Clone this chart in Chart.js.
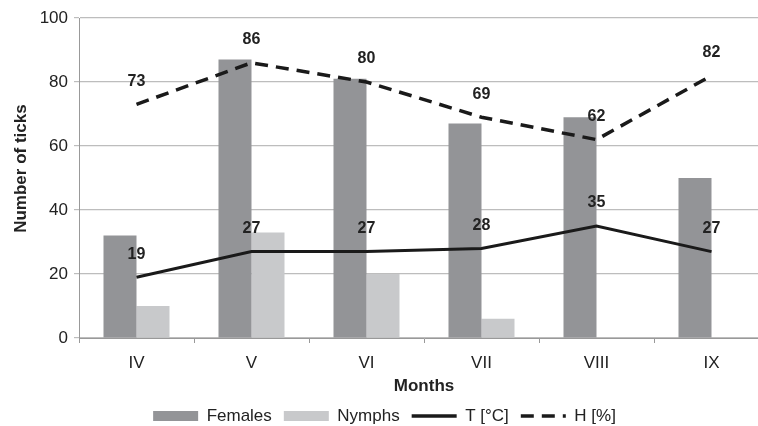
<!DOCTYPE html>
<html>
<head>
<meta charset="utf-8">
<script src="https://cdn.jsdelivr.net/npm/chart.js@4"></script>
<style>
  html, body { margin: 0; padding: 0; background: #fff; overflow: hidden; }
  canvas { display: block; }
</style>
</head>
<body>
<canvas id="ticksChart" width="790" height="426"></canvas>
<script>
// months on the x axis
const months = ['IV', 'V', 'VI', 'VII', 'VIII', 'IX'];
// tick counts
const females = [32, 87, 81, 67, 69, 50];
const nymphs = [10, 33, 20, 6, 0, 0];
// climate
const temperature = [19, 27, 27, 28, 35, 27];
const humidity = [73, 86, 80, 69, 62, 82];
const yTicks = [0, 20, 40, 60, 80, 100];

const FONT = 'Liberation Sans, Arial, sans-serif';

// writes the value above each point of the two lines
const pointLabels = {
  id: 'pointLabels',
  afterDatasetsDraw(chart) {
    const ctx = chart.ctx;
    ctx.save();
    ctx.font = 'bold 16px ' + FONT;
    ctx.fillStyle = '#222';
    ctx.textAlign = 'center';
    ctx.textBaseline = 'middle';
    chart.data.datasets.forEach((ds, i) => {
      if (ds.type !== 'line') return;
      chart.getDatasetMeta(i).data.forEach((pt, j) => {
        ctx.fillText(ds.data[j], pt.x, pt.y - 23);
      });
    });
    ctx.restore();
  }
};

new Chart(document.getElementById('ticksChart'), {
  type: 'bar',
  data: {
    labels: months,
    datasets: [
      {
        label: 'Females',
        data: females,
        backgroundColor: '#939497',
        borderWidth: 0,
        categoryPercentage: 0.574,
        barPercentage: 1,
        order: 3
      },
      {
        label: 'Nymphs',
        data: nymphs,
        backgroundColor: '#c8c9cb',
        borderWidth: 0,
        categoryPercentage: 0.574,
        barPercentage: 1,
        order: 4
      },
      {
        type: 'line',
        label: 'T [°C]',
        data: temperature,
        borderColor: '#1a1a1a',
        backgroundColor: '#1a1a1a',
        borderWidth: 3,
        pointRadius: 0,
        tension: 0,
        order: 1
      },
      {
        type: 'line',
        label: 'H [%]',
        data: humidity,
        borderColor: '#1a1a1a',
        backgroundColor: '#1a1a1a',
        borderWidth: 3.5,
        borderDash: [13, 8],
        pointRadius: 0,
        tension: 0,
        order: 2
      }
    ]
  },
  options: {
    responsive: false,
    animation: false,
    layout: { padding: { left: 0, right: 21, top: 18, bottom: 0 } },
    scales: {
      x: {
        grid: { drawOnChartArea: false, drawTicks: true, tickLength: 5, offset: true, color: '#999' },
        border: { color: '#999', width: 1 },
        ticks: { color: '#222', padding: 10, font: { family: FONT, size: 17 } },
        title: {
          display: true,
          text: 'Months',
          color: '#222',
          font: { family: FONT, size: 17, weight: 'bold', lineHeight: 1 },
          padding: { top: 0, bottom: 0.5 }
        },
        afterFit(scale) { scale.height = 57.5; }
      },
      y: {
        min: 0,
        max: 100,
        afterBuildTicks(scale) { scale.ticks = yTicks.map(v => ({ value: v })); },
        grid: { color: '#bdbdbd', lineWidth: 1.2, tickLength: 5 },
        border: { color: '#999', width: 1 },
        ticks: { color: '#222', padding: 6, font: { family: FONT, size: 17 } },
        title: {
          display: true,
          text: '    Number of ticks',
          color: '#222',
          font: { family: FONT, size: 17, weight: 'bold', lineHeight: 1 },
          padding: { top: 12.5, bottom: 0 }
        },
        afterFit(scale) { scale.width = 79; }
      }
    },
    plugins: {
      legend: {
        position: 'bottom',
        maxHeight: 30.5,
        labels: {
          color: '#222',
          font: { family: FONT, size: 17, lineHeight: 1 },
          padding: 12,
          boxHeight: 10,
          usePointStyle: true,
          pointStyleWidth: 45,
          generateLabels(chart) {
            const items = Chart.defaults.plugins.legend.labels.generateLabels(chart);
            return items
              .sort((a, b) => a.datasetIndex - b.datasetIndex)
              .map(item => {
                const ds = chart.data.datasets[item.datasetIndex];
                item.pointStyle = ds.type === 'line' ? 'line' : 'rect';
                if (ds.type === 'line') {
                  item.lineWidth = 3.5;
                  item.lineDash = ds.borderDash || [];
                }
                return item;
              });
          }
        }
      },
      tooltip: { enabled: false }
    }
  },
  plugins: [pointLabels]
});
</script>
</body>
</html>
